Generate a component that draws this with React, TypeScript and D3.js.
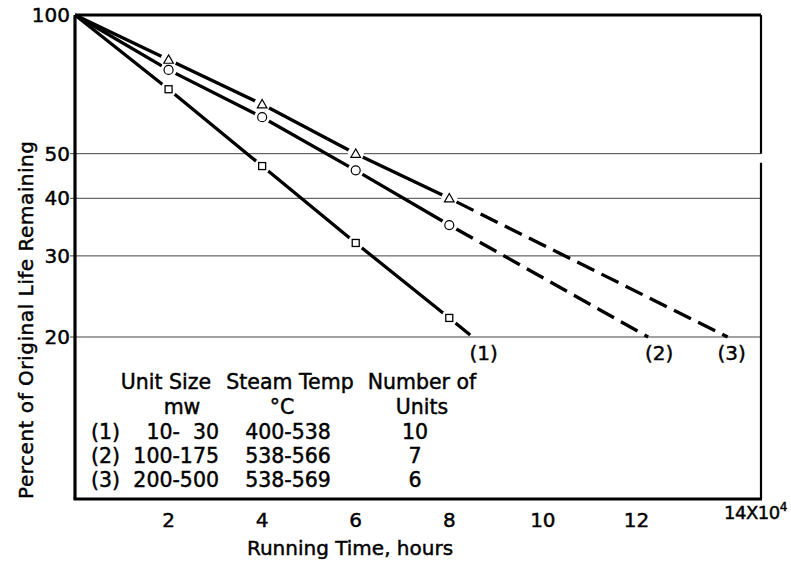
import React from "react";
import * as d3 from "d3";

// ---- data ----
const hoursX = [0, 2, 4, 6, 8];
const series1 = [100, 69, 47, 32, 22]; // squares
const series2 = [100, 76, 60, 46, 35]; // circles
const series3 = [100, 80, 64, 50, 40]; // triangles
const extrapEndX = [8.5, 12.25, 13.95];
const extrapEndY = [20, 20, 20];
const seriesLabels = ["(1)", "(2)", "(3)"];
const markerKinds = ["square", "circle", "triangle"];

const yTicks = [100, 50, 40, 30, 20];
const gridVals = [50, 40, 30, 20];
const xTicks = [2, 4, 6, 8, 10, 12];

const tableHeader1 = ["Unit Size", "Steam Temp", "Number of"];
const tableHeader2 = ["mw", "°C", "Units"];
const rowIds = ["(1)", "(2)", "(3)"];
const unitSizes = ["10-  30", "100-175", "200-500"];
const steamTemps = ["400-538", "538-566", "538-569"];
const numUnits = ["10", "7", "6"];

const W = 791;
const H = 561;
const FONT = "'DejaVu Sans', sans-serif";

export default function App() {
  const x = d3.scaleLinear().domain([0, 14]).range([75, 730]);
  const y = d3.scaleLog().domain([20, 100]).range([337, 15]);
  const left = 75;
  const right = 761;
  const top = 15;
  const bottom = 499;

  const allSeries = [series1, series2, series3];
  const line = d3
    .line<[number, number]>()
    .x((d) => x(d[0]))
    .y((d) => y(d[1]));

  const marker = (kind: string, cx: number, cy: number, key: string) => {
    if (kind === "square")
      return (
        <rect key={key} x={cx - 3.5} y={cy - 3.5} width={7} height={7} fill="#fff" stroke="#000" strokeWidth={1.3} />
      );
    if (kind === "circle")
      return <circle key={key} cx={cx} cy={cy} r={4.5} fill="#fff" stroke="#000" strokeWidth={1.2} />;
    const s = 4.8;
    return (
      <path
        key={key}
        d={`M${cx},${cy - s}L${cx + s},${cy + s * 0.75}L${cx - s},${cy + s * 0.75}Z`}
        fill="#fff"
        stroke="#000"
        strokeWidth={1.2}
      />
    );
  };

  const txt = { stroke: "#000", strokeWidth: 0.45 };

  return (
    <svg width={W} height={H} style={{ display: "block", position: "absolute", left: 0, top: 0 }} fontFamily={FONT}>
      <rect x={0} y={0} width={W} height={H} fill="#fff" />
      {/* gridlines */}
      {gridVals.map((v) => (
        <line key={v} x1={left - 5} x2={right} y1={y(v)} y2={y(v)} stroke="#444" strokeWidth={1} />
      ))}
      {/* frame */}
      <line x1={left} x2={right} y1={top} y2={top} stroke="#000" strokeWidth={3} />
      <line x1={left} x2={left} y1={top} y2={bottom} stroke="#000" strokeWidth={3.2} />
      <line x1={left - 1.5} x2={right + 1} y1={bottom} y2={bottom} stroke="#000" strokeWidth={3.2} />
      <line x1={right} x2={right} y1={top} y2={y(50)} stroke="#000" strokeWidth={2.2} />
      <line x1={right} x2={right} y1={y(50) + 9} y2={bottom} stroke="#000" strokeWidth={2.2} />

      {/* series lines */}
      {allSeries.map((s, i) => {
        const pts = hoursX.map((h, j) => [h, s[j]] as [number, number]);
        const last = pts[pts.length - 1];
        const ext: [number, number][] = [last, [extrapEndX[i], extrapEndY[i]]];
        return (
          <g key={i}>
            <path d={line(pts) || ""} fill="none" stroke="#000" strokeWidth={3.3} />
            <path d={line(ext) || ""} fill="none" stroke="#000" strokeWidth={3.3} strokeDasharray="19 8" strokeDashoffset={-8} />
          </g>
        );
      })}
      {/* white gaps and markers */}
      {allSeries.map((s, i) =>
        hoursX.slice(1).map((h, j) => (
          <circle key={`g${i}-${j}`} cx={x(h)} cy={y(s[j + 1])} r={8} fill="#fff" />
        ))
      )}
      {allSeries.map((s, i) =>
        hoursX.slice(1).map((h, j) => marker(markerKinds[i], x(h), y(s[j + 1]), `m${i}-${j}`))
      )}

      <g {...txt}>
        {/* series labels */}
        {seriesLabels.map((t, i) => (
          <text key={t} x={x(extrapEndX[i]) + (i === 2 ? 4 : 11)} y={y(extrapEndY[i]) + 23} fontSize={20} textAnchor="middle">
            {t}
          </text>
        ))}

        {/* y ticks */}
        {yTicks.map((v) => (
          <text key={v} x={70} y={y(v) + 7} fontSize={20} textAnchor="end">
            {v}
          </text>
        ))}
        {/* x ticks */}
        {xTicks.map((v) => (
          <text key={v} x={x(v)} y={527} fontSize={20} textAnchor="middle">
            {v}
          </text>
        ))}
        <text x={724} y={519} fontSize={18} letterSpacing={-0.5}>
          14X10
          <tspan dy={-8} fontSize={12}>
            4
          </tspan>
        </text>

        {/* axis titles */}
        <text x={350} y={555} fontSize={20} textAnchor="middle">
          Running Time, hours
        </text>
        <text transform="translate(33,320) rotate(-90)" fontSize={20} textAnchor="middle" textLength={358} lengthAdjust="spacing">
          Percent of Original Life Remaining
        </text>

        {/* table */}
        {[166, 290, 422].map((cx, k) => (
          <text key={`h1${k}`} x={cx} y={389} fontSize={20.5} textAnchor="middle">
            {tableHeader1[k]}
          </text>
        ))}
        {[182, 282, 422].map((cx, k) => (
          <text key={`h2${k}`} x={cx} y={414} fontSize={20.5} textAnchor="middle">
            {tableHeader2[k]}
          </text>
        ))}
        {rowIds.map((id, r) => {
          const by = 439 + r * 24;
          return (
            <g key={id}>
              <text x={91} y={by} fontSize={20.5}>
                {id}
              </text>
              <text x={219} y={by} fontSize={20.5} textAnchor="end" style={{ whiteSpace: "pre" }}>
                {unitSizes[r]}
              </text>
              <text x={288} y={by} fontSize={20.5} textAnchor="middle">
                {steamTemps[r]}
              </text>
              <text x={415} y={by} fontSize={20.5} textAnchor="middle">
                {numUnits[r]}
              </text>
            </g>
          );
        })}
      </g>
    </svg>
  );
}
